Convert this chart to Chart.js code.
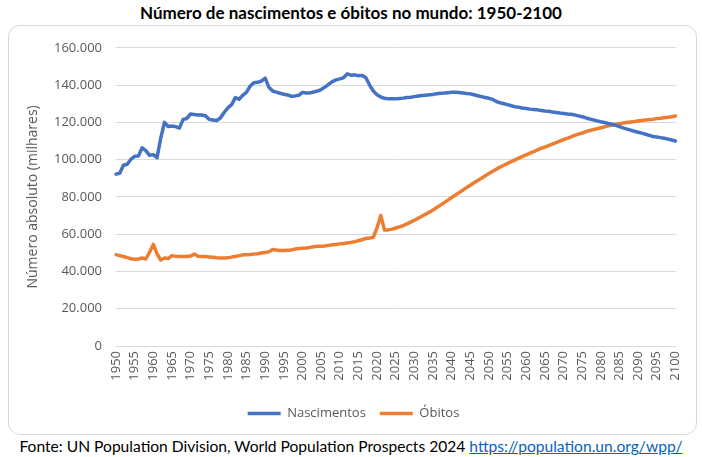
<!DOCTYPE html>
<html>
<head>
<meta charset="utf-8">
<script src="https://cdn.jsdelivr.net/npm/chart.js@4"></script>
<style>
  body { margin: 0; width: 702px; height: 457px; background: #fff; position: relative; overflow: hidden; }
  #title { position: absolute; left: 0; top: 3px; width: 702px; text-align: center; font: bold 17px Lato, sans-serif; color: #000; line-height: 20px; }
  #frame { position: absolute; left: 8px; top: 25px; width: 687px; height: 408px; border: 1px solid #d9d9d9; border-radius: 12px; }
  #source { position: absolute; left: 0; top: 436px; width: 702px; text-align: center; font: 15.6px Lato, sans-serif; color: #000; line-height: 20px; }
  #source a { color: #0563C1; }
</style>
</head>
<body>
<div id="title">Número de nascimentos e óbitos no mundo: 1950-2100</div>
<div id="frame"><canvas id="chart"></canvas></div>
<div id="source">Fonte: UN Population Division, World Population Prospects 2024 <a href="https://population.un.org/wpp/">https://population.un.org/wpp/</a></div>
<script>
// anos 1950-2100
const years = [];
for (let y = 1950; y <= 2100; y++) years.push(y);

// nascimentos (milhares)
const births = [
  92200, 92700, 97000, 97500, 100200, 101800, 101900, 106300, 104800, 102300,
  102700, 101000, 111500, 120000, 117800, 118000, 117700, 116900, 121600, 122100,
  124500, 124200, 124000, 123900, 123500, 121600, 121300, 121000, 122300, 125300,
  127800, 129500, 133300, 132400, 134500, 136200, 139500, 141300, 141500, 142200,
  143700, 138800, 136800, 136200, 135600, 135100, 134700, 134000, 134200, 134500,
  136100, 135700, 135800, 136300, 136800, 137600, 138900, 140400, 141900, 142800,
  143300, 143900, 146000, 145300, 145500, 145000, 145200, 143900, 140000, 136800,
  134800, 133600, 132900, 132600, 132600, 132600, 132800, 133000, 133300, 133500,
  133800, 134100, 134400, 134600, 134800, 135000, 135300, 135600, 135700, 135900,
  136100, 136200, 136000, 135800, 135500, 135300, 134800, 134300, 133800, 133300,
  132900, 132300, 131200, 130500, 130000, 129500, 128900, 128400, 128100, 127700,
  127400, 127100, 126900, 126700, 126400, 126100, 125900, 125600, 125300, 125000,
  124800, 124500, 124300, 124000, 123500, 123000, 122400, 121800, 121300, 120800,
  120300, 119900, 119400, 119000, 118400, 117700, 117000, 116400, 115800, 115200,
  114700, 114200, 113600, 113000, 112400, 112100, 111800, 111500, 111000, 110500,
  110000
];

// óbitos (milhares)
const deaths = [
  49000, 48500, 48000, 47400, 46800, 46600, 46700, 47200, 46700, 50300,
  54500, 49500, 46100, 47200, 46900, 48500, 48100, 48000, 48000, 48000,
  48300, 49300, 48100, 48000, 48000, 47800, 47600, 47300, 47200, 47200,
  47300, 47700, 48000, 48500, 48900, 49000, 49100, 49300, 49500, 49900,
  50200, 50500, 51800, 51500, 51300, 51300, 51400, 51500, 52000, 52300,
  52500, 52600, 52900, 53300, 53500, 53500, 53700, 54000, 54300, 54500,
  54800, 55000, 55300, 55500, 56000, 56500, 57000, 57700, 57900, 58300,
  63500, 70000, 62200, 62300, 62700, 63300, 63900, 64600, 65500, 66500,
  67500, 68500, 69600, 70700, 71800, 73000, 74300, 75600, 76900, 78300,
  79700, 81000, 82300, 83600, 85000, 86300, 87600, 88800, 90000, 91300,
  92500, 93700, 94900, 96000, 97000, 98000, 98900, 99900, 100800, 101700,
  102600, 103500, 104300, 105200, 106100, 106700, 107500, 108300, 109100, 109900,
  110700, 111400, 112200, 113000, 113700, 114300, 115000, 115600, 116100, 116600,
  117100, 117600, 118100, 118600, 119000, 119300, 119600, 119900, 120200, 120400,
  120700, 121000, 121200, 121500, 121700, 122000, 122200, 122500, 122700, 123000,
  123400
];

const seriesNames = ["Nascimentos", "Óbitos"];
const colors = ["#4472C4", "#ED7D31"];

function fmt(v) {
  return String(v).replace(/\B(?=(\d{3})+(?!\d))/g, ".");
}

const ctx = document.getElementById("chart").getContext("2d");
new Chart(ctx, {
  type: "line",
  data: {
    labels: years,
    datasets: [
      { label: seriesNames[0], data: births, borderColor: colors[0], backgroundColor: colors[0], borderWidth: 3.5 },
      { label: seriesNames[1], data: deaths, borderColor: colors[1], backgroundColor: colors[1], borderWidth: 3.5 }
    ]
  },
  options: {
    responsive: true,
    maintainAspectRatio: false,
    animation: false,
    layout: { padding: { top: 15, right: 18, left: 20, bottom: 4 } },
    elements: {
      line: { tension: 0, borderJoinStyle: "round", borderCapStyle: "round" },
      point: { radius: 0, pointStyle: "line" }
    },
    plugins: {
      tooltip: { enabled: false },
      legend: {
        position: "bottom",
        labels: {
          usePointStyle: true,
          pointStyle: "line",
          pointStyleWidth: 33,
          boxWidth: 33,
          padding: 14,
          color: "#595959",
          font: { family: "'Open Sans', sans-serif", size: 13 }
        }
      }
    },
    scales: {
      x: {
        offset: false,
        grid: { display: false, drawTicks: false },
        border: { display: true, color: "#d9d9d9" },
        ticks: {
          autoSkip: false,
          maxRotation: 90,
          minRotation: 90,
          padding: 5,
          color: "#595959",
          font: { family: "'Open Sans', sans-serif", size: 13 },
          callback: function (v, i) { return years[i] % 5 === 0 ? String(years[i]) : null; }
        },
        afterFit: function (scale) { scale.height = 47; }
      },
      y: {
        min: 0,
        max: 160000,
        grid: { color: "#d9d9d9", drawTicks: false },
        border: { display: false },
        ticks: {
          stepSize: 20000,
          padding: 14,
          color: "#595959",
          font: { family: "'Open Sans', sans-serif", size: 13 },
          callback: function (v) { return fmt(v); }
        },
        title: {
          display: true,
          text: "Número absoluto (milhares)",
          color: "#595959",
          padding: { top: -4, bottom: 0 },
          font: { family: "'Open Sans', sans-serif", size: 14 }
        },
        afterFit: function (scale) { scale.width = 87; }
      }
    }
  }
});
</script>
</body>
</html>
